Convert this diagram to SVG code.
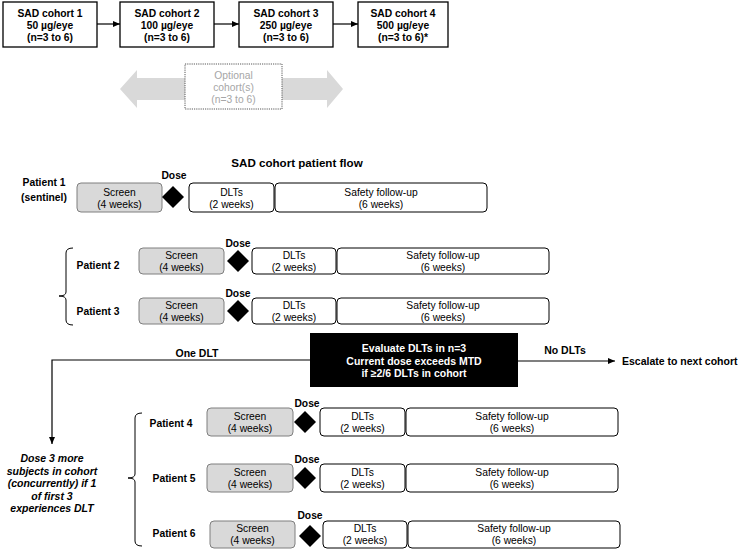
<svg xmlns="http://www.w3.org/2000/svg" width="740" height="552" viewBox="0 0 740 552">
<style>
text{font-family:"Liberation Sans",Arial,sans-serif;}
.b{font-weight:bold;font-size:10.3px;fill:#000;}
.n{font-size:10.3px;fill:#000;}
.t{text-anchor:middle;}
.cohort{fill:#fff;stroke:#000;stroke-width:1.3;}
.scr{fill:#d9d9d9;stroke:#7f7f7f;stroke-width:1;}
.wb{fill:#fff;stroke:#000;stroke-width:1;}
.dia{fill:#000;}
.ln{fill:none;stroke:#000;stroke-width:1.2;}
.br{fill:none;stroke:#000;stroke-width:1;}
.w{fill:#fff;font-weight:bold;font-size:10.5px;}
</style>
<defs>
<marker id="ah" markerWidth="8" markerHeight="8" refX="7" refY="4" orient="auto" markerUnits="userSpaceOnUse">
<path d="M0,1 L7,4 L0,7 Z" fill="#000"/>
</marker>
</defs>

<g id="cohort1"><rect class="cohort" x="3" y="2" width="94" height="45"/>
<text class="b t" x="50" y="17">SAD cohort 1</text><text class="b t" x="50" y="29">50 µg/eye</text><text class="b t" x="50" y="41">(n=3 to 6)</text></g>
<g id="cohort2"><rect class="cohort" x="120" y="2" width="94" height="45"/>
<text class="b t" x="167" y="17">SAD cohort 2</text><text class="b t" x="167" y="29">100 µg/eye</text><text class="b t" x="167" y="41">(n=3 to 6)</text></g>
<g id="cohort3"><rect class="cohort" x="239" y="2" width="94" height="45"/>
<text class="b t" x="286" y="17">SAD cohort 3</text><text class="b t" x="286" y="29">250 µg/eye</text><text class="b t" x="286" y="41">(n=3 to 6)</text></g>
<g id="cohort4"><rect class="cohort" x="358" y="2" width="90" height="45"/>
<text class="b t" x="403" y="17">SAD cohort 4</text><text class="b t" x="403" y="29">500 µg/eye</text><text class="b t" x="403" y="41">(n=3 to 6)*</text></g>

<g id="optional">
<polygon points="120,89 137,70 137,78 327,78 327,70 343,89 327,108 327,100 137,100 137,108" fill="#d9d9d9"/>
<rect x="185" y="64" width="97" height="45" fill="#fff" stroke="#595959" stroke-width="1" stroke-dasharray="1.2,1"/>
<text class="t" x="233.5" y="79" font-size="10.3" fill="#a6a6a6">Optional</text>
<text class="t" x="233.5" y="91" font-size="10.3" fill="#a6a6a6">cohort(s)</text>
<text class="t" x="233.5" y="103" font-size="10.3" fill="#a6a6a6">(n=3 to 6)</text>
</g>

<text class="t" x="297" y="167" font-weight="bold" font-size="11.6">SAD cohort patient flow</text>

<g id="patient1">
<text class="b t" x="44" y="186">Patient 1</text><text class="b t" x="44" y="201">(sentinel)</text>
<rect class="scr" x="77" y="183" width="85" height="29" rx="4"/>
<text class="n t" x="119.5" y="196">Screen</text><text class="n t" x="119.5" y="208">(4 weeks)</text>
<text class="b t" x="174" y="179">Dose</text>
<polygon class="dia" points="173,186 184,197 173,208 162,197"/>
<rect class="wb" x="189" y="183" width="85" height="29" rx="4"/>
<text class="n t" x="231.5" y="196">DLTs</text><text class="n t" x="231.5" y="208">(2 weeks)</text>
<rect class="wb" x="275" y="183" width="212" height="29" rx="4"/>
<text class="n t" x="381" y="196">Safety follow-up</text><text class="n t" x="381" y="208">(6 weeks)</text>
</g>

<g id="patient2">
<text class="b t" x="98" y="269">Patient 2</text>
<rect class="scr" x="139" y="248" width="85" height="26" rx="4"/>
<text class="n t" x="181.5" y="259">Screen</text><text class="n t" x="181.5" y="271">(4 weeks)</text>
<text class="b t" x="238" y="247">Dose</text>
<polygon class="dia" points="238,250 249,261 238,272 227,261"/>
<rect class="wb" x="252" y="248" width="84" height="26" rx="4"/>
<text class="n t" x="294" y="259">DLTs</text><text class="n t" x="294" y="271">(2 weeks)</text>
<rect class="wb" x="337" y="248" width="212" height="26" rx="4"/>
<text class="n t" x="443" y="259">Safety follow-up</text><text class="n t" x="443" y="271">(6 weeks)</text>
</g>

<g id="patient3">
<text class="b t" x="98" y="315">Patient 3</text>
<rect class="scr" x="139" y="298" width="85" height="26" rx="4"/>
<text class="n t" x="181.5" y="309">Screen</text><text class="n t" x="181.5" y="321">(4 weeks)</text>
<text class="b t" x="238" y="297">Dose</text>
<polygon class="dia" points="238,300 249,311 238,322 227,311"/>
<rect class="wb" x="252" y="298" width="84" height="26" rx="4"/>
<text class="n t" x="294" y="309">DLTs</text><text class="n t" x="294" y="321">(2 weeks)</text>
<rect class="wb" x="337" y="298" width="212" height="26" rx="4"/>
<text class="n t" x="443" y="309">Safety follow-up</text><text class="n t" x="443" y="321">(6 weeks)</text>
</g>

<g id="brace1"><path class="br" d="M73,248 Q66,248 66,253 L66,292 Q66,296 59,296 Q66,296 66,300 L66,320 Q66,325 73,325"/></g>

<g id="evaluate">
<rect x="310" y="333" width="208" height="54" fill="#000"/>
<text class="w t" x="414" y="352">Evaluate DLTs in n=3</text>
<text class="w t" x="414" y="364.5">Current dose exceeds MTD</text>
<text class="w t" x="414" y="377">if ≥2/6 DLTs in cohort</text>
</g>

<g id="escalate"><text x="622" y="365" font-weight="bold" font-size="10.5">Escalate to next cohort</text></g>

<g id="dose3">
<text class="t" x="52" y="462" font-weight="bold" font-style="italic" font-size="10.5">Dose 3 more</text>
<text class="t" x="52" y="474.5" font-weight="bold" font-style="italic" font-size="10.5">subjects in cohort</text>
<text class="t" x="52" y="487" font-weight="bold" font-style="italic" font-size="10.5">(concurrently) if 1</text>
<text class="t" x="52" y="499.5" font-weight="bold" font-style="italic" font-size="10.5">of first 3</text>
<text class="t" x="52" y="512" font-weight="bold" font-style="italic" font-size="10.5">experiences DLT</text>
</g>

<g id="connectors">
<line class="ln" x1="97" y1="24" x2="120" y2="24" marker-end="url(#ah)"/>
<line class="ln" x1="214" y1="24" x2="239" y2="24" marker-end="url(#ah)"/>
<line class="ln" x1="333" y1="24" x2="358" y2="24" marker-end="url(#ah)"/>
<polyline class="ln" points="310,360 52,360 52,444" marker-end="url(#ah)"/>
<line class="ln" x1="518" y1="361" x2="615" y2="361" marker-end="url(#ah)"/>
<text class="t" x="197" y="357" font-weight="bold" font-size="10.5">One DLT</text>
<text class="t" x="565" y="354" font-weight="bold" font-size="10.5">No DLTs</text>
</g>

<g id="brace2"><path class="br" d="M142,413 Q135,413 135,418 L135,474 Q135,478 128,478 Q135,478 135,482 L135,541 Q135,546 142,546"/></g>

<g id="patient4">
<text class="b t" x="171" y="427">Patient 4</text>
<rect class="scr" x="207" y="408" width="86" height="28" rx="4"/>
<text class="n t" x="250" y="419.5">Screen</text><text class="n t" x="250" y="431.5">(4 weeks)</text>
<text class="b t" x="307" y="407">Dose</text>
<polygon class="dia" points="305,411 316,422 305,433 294,422"/>
<rect class="wb" x="320" y="408" width="85" height="28" rx="4"/>
<text class="n t" x="362.5" y="419.5">DLTs</text><text class="n t" x="362.5" y="431.5">(2 weeks)</text>
<rect class="wb" x="406" y="408" width="212" height="28" rx="4"/>
<text class="n t" x="512" y="419.5">Safety follow-up</text><text class="n t" x="512" y="431.5">(6 weeks)</text>
</g>

<g id="patient5">
<text class="b t" x="174" y="482">Patient 5</text>
<rect class="scr" x="207" y="464" width="86" height="28" rx="4"/>
<text class="n t" x="250" y="475.5">Screen</text><text class="n t" x="250" y="487.5">(4 weeks)</text>
<text class="b t" x="307" y="463">Dose</text>
<polygon class="dia" points="305,467 316,478 305,489 294,478"/>
<rect class="wb" x="320" y="464" width="85" height="28" rx="4"/>
<text class="n t" x="362.5" y="475.5">DLTs</text><text class="n t" x="362.5" y="487.5">(2 weeks)</text>
<rect class="wb" x="406" y="464" width="212" height="28" rx="4"/>
<text class="n t" x="512" y="475.5">Safety follow-up</text><text class="n t" x="512" y="487.5">(6 weeks)</text>
</g>

<g id="patient6">
<text class="b t" x="174" y="537">Patient 6</text>
<rect class="scr" x="210" y="521" width="85" height="27" rx="4"/>
<text class="n t" x="252.5" y="532">Screen</text><text class="n t" x="252.5" y="544">(4 weeks)</text>
<text class="b t" x="310" y="519">Dose</text>
<polygon class="dia" points="310,525 321,536 310,547 299,536"/>
<rect class="wb" x="323" y="521" width="84" height="27" rx="4"/>
<text class="n t" x="365" y="532">DLTs</text><text class="n t" x="365" y="544">(2 weeks)</text>
<rect class="wb" x="408" y="521" width="212" height="27" rx="4"/>
<text class="n t" x="514" y="532">Safety follow-up</text><text class="n t" x="514" y="544">(6 weeks)</text>
</g>
</svg>
